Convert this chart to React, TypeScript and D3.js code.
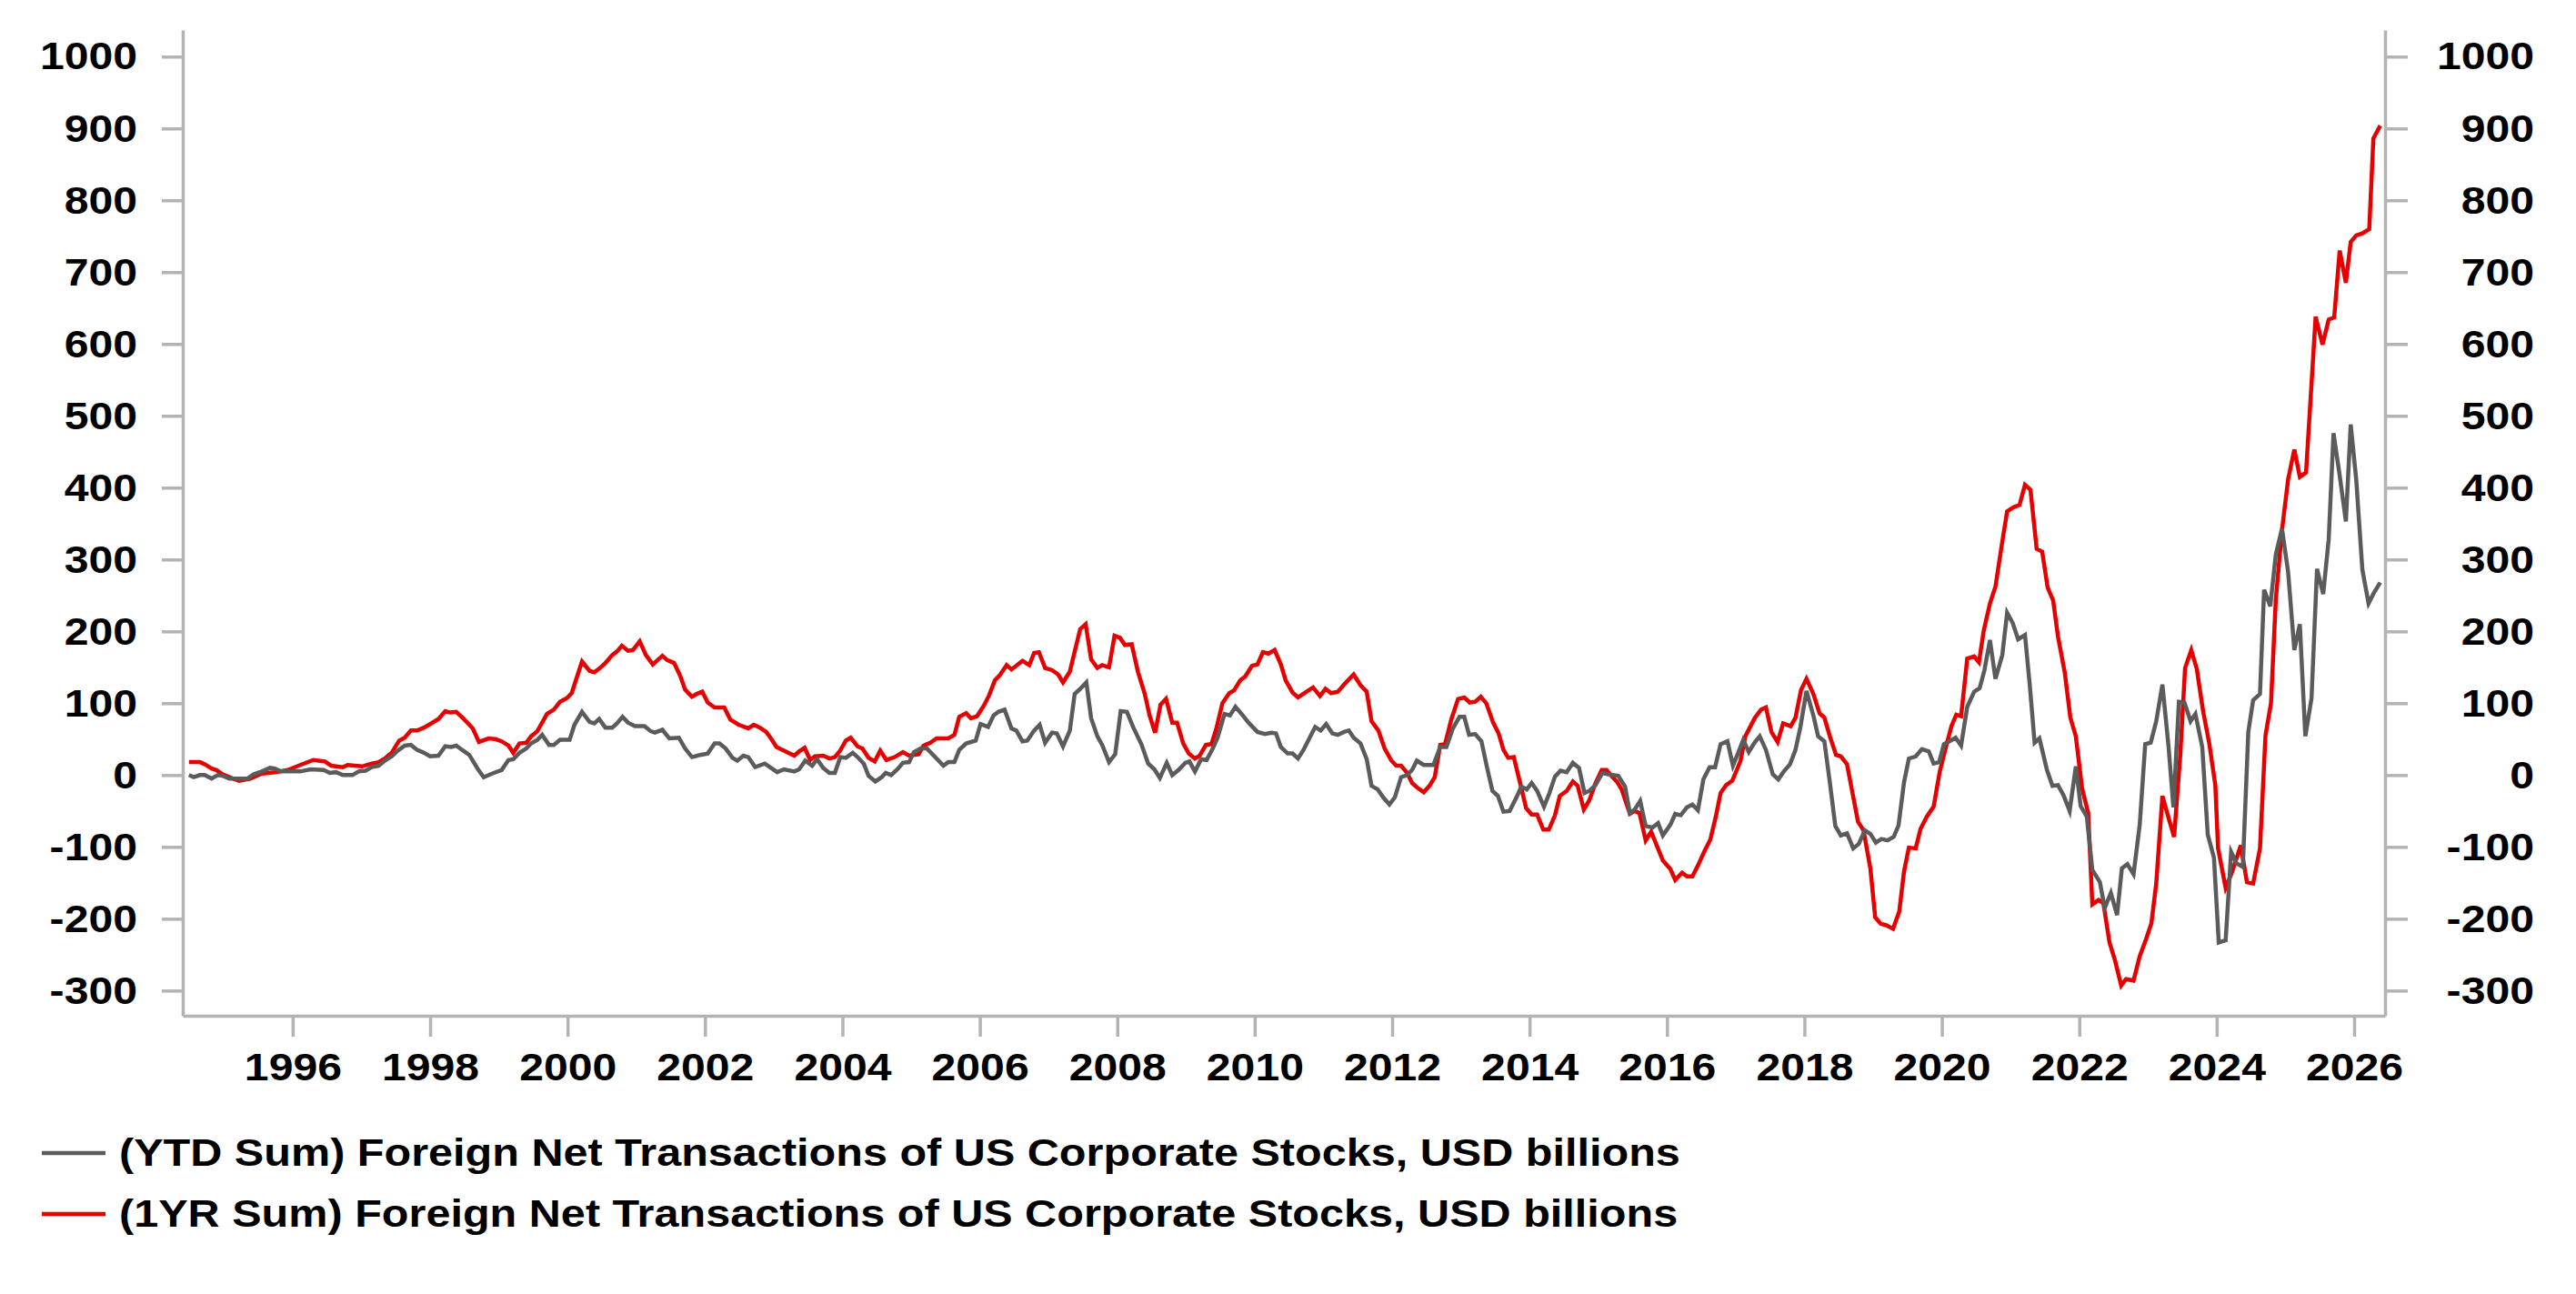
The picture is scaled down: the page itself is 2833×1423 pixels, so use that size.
import React, { useRef, useEffect } from "react";
import * as d3 from "d3";

// 1YR sum (decimal year, USD bn)
const yr1Dates = [
  1994.49, 1994.65, 1994.72, 1994.82, 1994.89, 1994.98,
  1995.08, 1995.22, 1995.38, 1995.55, 1995.74, 1995.93,
  1996.11, 1996.3, 1996.47, 1996.56, 1996.73, 1996.8,
  1997.01, 1997.15, 1997.25, 1997.34, 1997.44, 1997.55, 1997.63, 1997.72, 1997.81, 1997.91,
  1998.0, 1998.12, 1998.22, 1998.29, 1998.38, 1998.48, 1998.62, 1998.71, 1998.85, 1998.95,
  1999.04, 1999.14, 1999.21, 1999.3, 1999.4, 1999.47, 1999.56, 1999.7, 1999.8, 1999.89, 1999.99,
  2000.06, 2000.21, 2000.32, 2000.39, 2000.46, 2000.55, 2000.65, 2000.72, 2000.79, 2000.88, 2000.95,
  2001.05, 2001.14, 2001.24, 2001.38, 2001.45, 2001.55, 2001.64, 2001.71, 2001.81, 2001.88, 2001.96,
  2002.04, 2002.14, 2002.28, 2002.37, 2002.49, 2002.63, 2002.71, 2002.8, 2002.89, 2002.96,
  2003.04, 2003.15, 2003.3, 2003.37, 2003.45, 2003.53, 2003.6, 2003.72, 2003.81, 2003.89, 2003.96,
  2004.05, 2004.12, 2004.22, 2004.29, 2004.38, 2004.47, 2004.55, 2004.64, 2004.76, 2004.88, 2004.97,
  2005.11, 2005.18, 2005.28, 2005.37, 2005.54, 2005.63, 2005.7, 2005.8, 2005.87, 2005.96,
  2006.06, 2006.13, 2006.22, 2006.29, 2006.39, 2006.46, 2006.62, 2006.72, 2006.79, 2006.86, 2006.95,
  2007.05, 2007.14, 2007.21, 2007.31, 2007.38, 2007.46, 2007.54, 2007.62, 2007.71, 2007.78, 2007.88, 2007.96,
  2008.04, 2008.11, 2008.21, 2008.3, 2008.4, 2008.47, 2008.55, 2008.63, 2008.71, 2008.8, 2008.87, 2008.96,
  2009.04, 2009.13, 2009.2, 2009.29, 2009.37, 2009.44, 2009.53, 2009.63, 2009.7, 2009.79, 2009.86, 2009.96,
  2010.04, 2010.12, 2010.2, 2010.29, 2010.38, 2010.45, 2010.55, 2010.63, 2010.74, 2010.85, 2010.95,
  2011.03, 2011.11, 2011.21, 2011.3, 2011.44, 2011.54, 2011.63, 2011.7, 2011.8, 2011.89, 2011.99,
  2012.06, 2012.13, 2012.22, 2012.29, 2012.36, 2012.46, 2012.55, 2012.62, 2012.7, 2012.77, 2012.86, 2012.96,
  2013.05, 2013.13, 2013.21, 2013.29, 2013.37, 2013.47, 2013.55, 2013.62, 2013.69, 2013.77, 2013.87, 2013.95,
  2014.03, 2014.11, 2014.2, 2014.28, 2014.37, 2014.44, 2014.54, 2014.63, 2014.7, 2014.79, 2014.87, 2014.96,
  2015.05, 2015.12, 2015.2, 2015.27, 2015.34, 2015.46, 2015.53, 2015.6, 2015.69, 2015.77, 2015.86, 2015.94,
  2016.05, 2016.12, 2016.22, 2016.29, 2016.37, 2016.45, 2016.55, 2016.63, 2016.71, 2016.78, 2016.86, 2016.95,
  2017.02, 2017.07, 2017.14, 2017.21, 2017.28, 2017.37, 2017.44, 2017.52, 2017.61, 2017.69, 2017.8, 2017.87, 2017.95,
  2018.03, 2018.13, 2018.22, 2018.29, 2018.37, 2018.46, 2018.53, 2018.62, 2018.7, 2018.78, 2018.86, 2018.96,
  2019.03, 2019.11, 2019.19, 2019.29, 2019.38, 2019.45, 2019.52, 2019.62, 2019.69, 2019.78, 2019.88, 2019.97,
  2020.07, 2020.14, 2020.21, 2020.28, 2020.37, 2020.47, 2020.54, 2020.61, 2020.7, 2020.78, 2020.87, 2020.95,
  2021.05, 2021.13, 2021.21, 2021.29, 2021.38, 2021.46, 2021.54, 2021.62, 2021.69, 2021.79, 2021.87, 2021.95,
  2022.04, 2022.13, 2022.19, 2022.28, 2022.35, 2022.44, 2022.52, 2022.61, 2022.68, 2022.79, 2022.88, 2022.97,
  2023.05, 2023.12, 2023.21, 2023.3, 2023.38, 2023.47, 2023.54, 2023.63, 2023.71, 2023.8, 2023.89, 2023.98,
  2024.02, 2024.13, 2024.22, 2024.35, 2024.44, 2024.53, 2024.63, 2024.71, 2024.79, 2024.86, 2024.95,
  2025.04, 2025.13, 2025.21, 2025.3, 2025.44, 2025.54, 2025.63, 2025.71, 2025.79, 2025.88, 2025.95,
  2026.03, 2026.12, 2026.22, 2026.28, 2026.38,
];
const yr1Values = [
  18, 18, 15, 9, 7, 1,
  -3, -8, -5, 2, 4, 7,
  14, 21, 19, 13, 11, 14,
  12, 16, 18, 23, 31, 48, 52, 62, 62, 66,
  71, 78, 89, 87, 88, 79, 65, 46, 51, 50,
  47, 41, 31, 44, 45, 54, 61, 85, 91, 102, 107,
  114, 158, 145, 143, 148, 156, 167, 172, 180, 173, 174,
  186, 167, 154, 166, 160, 156, 138, 119, 109, 113, 116,
  101, 94, 94, 77, 70, 65, 70, 66, 60, 51,
  39, 34, 27, 33, 38, 21, 26, 27, 23, 25, 33,
  48, 52, 40, 37, 24, 19, 34, 21, 25, 32, 27,
  29, 41, 45, 51, 51, 56, 81, 86, 79, 82,
  97, 110, 132, 139, 153, 147, 159, 153, 170, 171, 149,
  146, 140, 129, 144, 172, 203, 210, 161, 149, 153, 150, 194,
  191, 181, 182, 144, 113, 83, 59, 98, 106, 73, 73, 44,
  30, 23, 27, 42, 43, 64, 100, 114, 118, 132, 137, 152,
  154, 171, 169, 174, 154, 132, 115, 108, 115, 122, 110,
  120, 114, 116, 126, 140, 125, 116, 75, 62, 37, 20,
  13, 13, 3, -11, -17, -24, -14, -3, 42, 43, 77, 106,
  108, 101, 102, 109, 100, 73, 58, 35, 24, 25, -14, -46,
  -55, -55, -76, -76, -56, -29, -22, -9, -15, -48, -35, -11,
  7, 7, -2, -9, -20, -54, -50, -53, -91, -79, -100, -119,
  -131, -146, -136, -141, -141, -126, -105, -90, -58, -25, -14, -8,
  8, 20, 54, 67, 80, 91, 94, 60, 46, 72, 68, 80, 118,
  134, 113, 86, 80, 54, 28, 26, 15, -25, -65, -77, -130,
  -198, -207, -209, -214, -190, -134, -101, -102, -75, -58, -44, 5,
  43, 68, 84, 82, 162, 165, 157, 201, 239, 262, 319, 367,
  373, 376, 404, 397, 315, 311, 261, 243, 193, 142, 80, 54,
  -18, -53, -180, -174, -178, -233, -258, -293, -284, -286, -252, -229,
  -206, -151, -29, -60, -86, 28, 149, 174, 148, 90, 45, -14,
  -102, -157, -136, -98, -149, -151, -102, 55, 100, 244, 341,
  412, 453, 415, 421, 638, 599, 634, 637, 730, 685, 742,
  751, 754, 760, 886, 904,
];

// YTD sum (decimal year, USD bn)
const ytdDates = [
  1994.49, 1994.56, 1994.65, 1994.72, 1994.82, 1994.91, 1994.98,
  1995.08, 1995.26, 1995.34, 1995.43, 1995.55, 1995.67, 1995.74, 1995.83,
  1996.02, 1996.11, 1996.26, 1996.45, 1996.54, 1996.63, 1996.73, 1996.87, 1996.96,
  1997.06, 1997.15, 1997.25, 1997.34, 1997.44, 1997.53, 1997.63, 1997.72, 1997.81, 1997.91,
  1998.0, 1998.12, 1998.22, 1998.31, 1998.38, 1998.48, 1998.57, 1998.69, 1998.78, 1998.9,
  1999.04, 1999.14, 1999.21, 1999.3, 1999.4, 1999.47, 1999.56, 1999.63, 1999.73, 1999.8, 1999.89,
  2000.03, 2000.1, 2000.21, 2000.32, 2000.39, 2000.46, 2000.55, 2000.65, 2000.72, 2000.8, 2000.88, 2000.98,
  2001.12, 2001.21, 2001.27, 2001.38, 2001.48, 2001.62, 2001.71, 2001.81, 2001.93,
  2002.04, 2002.14, 2002.21, 2002.3, 2002.4, 2002.47, 2002.56, 2002.63, 2002.73, 2002.87, 2002.96,
  2003.05, 2003.15, 2003.3, 2003.37, 2003.46, 2003.56, 2003.63, 2003.72, 2003.81, 2003.89, 2003.97,
  2004.05, 2004.15, 2004.22, 2004.31, 2004.38, 2004.48, 2004.57, 2004.63, 2004.71, 2004.81, 2004.88, 2004.97,
  2005.04, 2005.14, 2005.23, 2005.33, 2005.47, 2005.54, 2005.63, 2005.7, 2005.8, 2005.94,
  2006.01, 2006.12, 2006.2, 2006.27, 2006.36, 2006.46, 2006.53, 2006.62, 2006.69, 2006.79, 2006.87, 2006.95,
  2007.05, 2007.12, 2007.21, 2007.31, 2007.38, 2007.45, 2007.55, 2007.62, 2007.71, 2007.78, 2007.88, 2007.97,
  2008.05, 2008.14, 2008.23, 2008.35, 2008.45, 2008.54, 2008.62, 2008.72, 2008.8, 2008.89, 2008.99,
  2009.05, 2009.13, 2009.22, 2009.3, 2009.39, 2009.46, 2009.56, 2009.64, 2009.72, 2009.81, 2009.91,
  2010.04, 2010.15, 2010.24, 2010.31, 2010.38, 2010.48, 2010.55, 2010.63, 2010.71, 2010.8, 2010.88, 2010.96,
  2011.04, 2011.13, 2011.21, 2011.3, 2011.37, 2011.44, 2011.54, 2011.63, 2011.7, 2011.79, 2011.87, 2011.96,
  2012.04, 2012.13, 2012.22, 2012.29, 2012.36, 2012.46, 2012.6, 2012.7, 2012.79, 2012.88, 2012.98,
  2013.05, 2013.12, 2013.21, 2013.3, 2013.38, 2013.46, 2013.54, 2013.62, 2013.71, 2013.81, 2013.88, 2013.96,
  2014.03, 2014.11, 2014.21, 2014.29, 2014.37, 2014.45, 2014.54, 2014.63, 2014.72, 2014.8, 2014.87, 2014.96,
  2015.06, 2015.15, 2015.29, 2015.39, 2015.46, 2015.53, 2015.61, 2015.69, 2015.79, 2015.87, 2015.94,
  2016.05, 2016.12, 2016.2, 2016.29, 2016.37, 2016.45, 2016.53, 2016.62, 2016.7, 2016.78, 2016.88, 2016.96,
  2017.04, 2017.11, 2017.19, 2017.28, 2017.35, 2017.44, 2017.54, 2017.62, 2017.7, 2017.79, 2017.87, 2017.94,
  2018.03, 2018.13, 2018.2, 2018.29, 2018.37, 2018.45, 2018.53, 2018.62, 2018.71, 2018.79, 2018.88, 2018.96,
  2019.04, 2019.12, 2019.21, 2019.3, 2019.37, 2019.45, 2019.52, 2019.62, 2019.71, 2019.81, 2019.88, 2019.96,
  2020.03, 2020.11, 2020.2, 2020.28, 2020.37, 2020.47, 2020.55, 2020.62, 2020.7, 2020.78, 2020.88, 2020.95,
  2021.03, 2021.11, 2021.21, 2021.28, 2021.35, 2021.42, 2021.53, 2021.61, 2021.69, 2021.77, 2021.86, 2021.95,
  2022.02, 2022.11, 2022.19, 2022.3, 2022.37, 2022.46, 2022.55, 2022.62, 2022.7, 2022.79, 2022.88, 2022.96,
  2023.04, 2023.12, 2023.21, 2023.3, 2023.37, 2023.45, 2023.53, 2023.62, 2023.69, 2023.79, 2023.87, 2023.96,
  2024.03, 2024.13, 2024.21, 2024.29, 2024.38, 2024.46, 2024.53, 2024.63, 2024.69, 2024.78, 2024.86, 2024.95,
  2025.04, 2025.13, 2025.21, 2025.29, 2025.38, 2025.46, 2025.55, 2025.63, 2025.7, 2025.79, 2025.88, 2025.95,
  2026.03, 2026.12, 2026.21, 2026.29, 2026.38,
];
const ytdValues = [
  0, -3, 0, 0, -5, 0, -1,
  -5, -5, -5, 1, 5, 10, 9, 5,
  5, 5, 8, 7, 3, 4, 0, 0, 5,
  6, 11, 13, 20, 26, 34, 41, 42, 35, 31,
  26, 27, 40, 39, 41, 34, 28, 9, -3, 2,
  7, 21, 22, 31, 37, 44, 49, 56, 42, 42, 49,
  49, 70, 88, 74, 72, 78, 66, 66, 72, 81, 73, 68,
  68, 61, 59, 63, 51, 52, 37, 25, 28,
  30, 44, 44, 37, 24, 20, 27, 25, 11, 16, 10,
  4, 8, 5, 8, 20, 13, 22, 10, 3, 3, 25,
  24, 31, 25, 16, -1, -9, -3, 3, 0, 9, 17, 18,
  32, 37, 37, 27, 13, 18, 18, 35, 44, 48,
  71, 67, 83, 88, 91, 65, 62, 47, 48, 62, 70, 45,
  59, 58, 40, 62, 113, 119, 129, 79, 54, 42, 18, 29,
  89, 88, 67, 43, 16, 8, -4, 17, 0, 7, 17,
  19, 5, 22, 21, 37, 52, 85, 83, 95, 85, 73,
  60, 57, 59, 58, 39, 30, 30, 23, 35, 52, 67, 62,
  71, 58, 56, 60, 62, 52, 44, 22, -15, -20, -31, -41,
  -31, -3, 0, 7, 20, 14, 14, 39, 39, 64, 81,
  81, 56, 57, 47, 11, -22, -29, -51, -50, -31, -16, -20,
  -11, -22, -44, -25, -2, 6, 4, 17, 10, -25, -22, -14,
  3, 1, -1, -16, -53, -48, -36, -71, -73, -67, -84,
  -69, -54, -56, -45, -41, -49, -6, 11, 11, 43, 47, 13,
  32, 49, 32, 46, 54, 35, 1, -6, 5, 15, 35, 66,
  117, 83, 54, 47, -10, -71, -84, -81, -102, -96, -77, -82,
  -94, -89, -91, -86, -70, -10, 23, 26, 36, 33, 16, 18,
  43, 47, 52, 41, 95, 116, 121, 146, 188, 134, 167, 226,
  212, 189, 195, 125, 45, 51, 7, -15, -14, -28, -50, 12,
  -43, -58, -132, -149, -185, -164, -195, -130, -124, -138, -69, 43,
  45, 75, 126, 39, -45, 102, 101, 75, 85, 39, -83, -115,
  -233, -230, -107, -123, -128, 60, 104, 113, 258, 235, 307, 343,
  282, 174, 210, 54, 107, 287, 252, 328, 476, 417, 353, 488,
  412, 286, 239, 254, 268,
];

const yearTicks = [1996, 1998, 2000, 2002, 2004, 2006, 2008, 2010, 2012, 2014, 2016, 2018, 2020, 2022, 2024, 2026];
const valueTicks = [-300, -200, -100, 0, 100, 200, 300, 400, 500, 600, 700, 800, 900, 1000];
const legendLabels = [
  "(YTD Sum) Foreign Net Transactions of US Corporate Stocks, USD billions",
  "(1YR Sum) Foreign Net Transactions of US Corporate Stocks, USD billions",
];

const GRAY = "#5b5b5b";
const RED = "#e60000";
const AXIS = "#b3b3b3";
const FONT = "'Liberation Sans', Arial, sans-serif";
const FONT_SIZE = 43;
const STRETCH = 1.12;

export const ForeignFlowsChart = () => {
  const svgRef = useRef<SVGSVGElement>(null);

  useEffect(() => {
    if (!svgRef.current) return;
    const svg = d3.select(svgRef.current);
    svg.selectAll("*").remove();

    const width = 2833;
    const height = 1423;
    const plot = { left: 201, right: 2623, top: 33, bottom: 1117 };

    const x = d3.scaleLinear().domain([1994.4, 2026.45]).range([plot.left, plot.right]);
    const y = d3.scaleLinear().domain([-335, 1037]).range([plot.bottom, plot.top]);
    const fmt = (d: d3.NumberValue) => String(d);

    const styleAxis = (g: d3.Selection<SVGGElement, unknown, null, undefined>) => {
      g.select(".domain").attr("stroke", AXIS).attr("stroke-width", 3.5);
      g.selectAll(".tick line").attr("stroke", AXIS).attr("stroke-width", 3.5);
      g.selectAll(".tick text")
        .attr("fill", "#000")
        .attr("font-family", FONT)
        .attr("font-weight", "bold")
        .attr("font-size", FONT_SIZE);
    };

    // left axis
    const left = svg
      .append("g")
      .attr("transform", `translate(${plot.left},0)`)
      .call(d3.axisLeft(y).tickValues(valueTicks).tickFormat(fmt).tickSize(23).tickSizeOuter(0).tickPadding(27));
    styleAxis(left);
    left.selectAll<SVGTextElement, number>(".tick text").each(function () {
      const t = d3.select(this);
      const tx = +t.attr("x");
      t.attr("x", 0).attr("transform", `translate(${tx},0) scale(${STRETCH},1)`);
    });

    // right axis, labels right-aligned
    const right = svg
      .append("g")
      .attr("transform", `translate(${plot.right},0)`)
      .call(d3.axisRight(y).tickValues(valueTicks).tickFormat(fmt).tickSize(25).tickSizeOuter(0));
    styleAxis(right);
    right
      .selectAll(".tick text")
      .attr("x", 0)
      .attr("text-anchor", "end")
      .attr("transform", `translate(164,0) scale(${STRETCH},1)`);

    // bottom axis
    const bottom = svg
      .append("g")
      .attr("transform", `translate(0,${plot.bottom})`)
      .call(
        d3
          .axisBottom(x)
          .tickValues(yearTicks)
          .tickFormat(fmt)
          .tickSize(23)
          .tickSizeOuter(0)
          .tickPadding(17)
      );
    styleAxis(bottom);
    bottom.selectAll(".tick text").attr("transform", `scale(${STRETCH},1)`);

    const line = d3
      .line<[number, number]>()
      .x((d) => x(d[0]))
      .y((d) => y(d[1]));

    const yr1 = yr1Dates.map((d, i) => [d, yr1Values[i]] as [number, number]);
    const ytd = ytdDates.map((d, i) => [d, ytdValues[i]] as [number, number]);

    svg.append("path")
      .datum(yr1)
      .attr("d", line)
      .attr("fill", "none")
      .attr("stroke", RED)
      .attr("stroke-width", 4.5);

    svg.append("path")
      .datum(ytd)
      .attr("d", line)
      .attr("fill", "none")
      .attr("stroke", GRAY)
      .attr("stroke-width", 4.5);

    // legend
    const legend = svg.append("g");
    const colors = [GRAY, RED];
    legendLabels.forEach((label, i) => {
      const by = 1282 + i * 67;
      legend.append("line")
        .attr("x1", 46)
        .attr("x2", 116)
        .attr("y1", by - 14)
        .attr("y2", by - 14)
        .attr("stroke", colors[i])
        .attr("stroke-width", 4.5);
      legend.append("text")
        .attr("transform", `translate(131,${by}) scale(1.13,1)`)
        .attr("font-family", FONT)
        .attr("font-weight", "bold")
        .attr("font-size", FONT_SIZE)
        .attr("fill", "#000")
        .text(label);
    });

    svg.attr("width", width).attr("height", height).attr("viewBox", [0, 0, width, height]);
  }, []);

  return (
    <svg
      ref={svgRef}
      style={{ position: "absolute", left: 0, top: 0, background: "#fff" }}
    />
  );
};

export default ForeignFlowsChart;
